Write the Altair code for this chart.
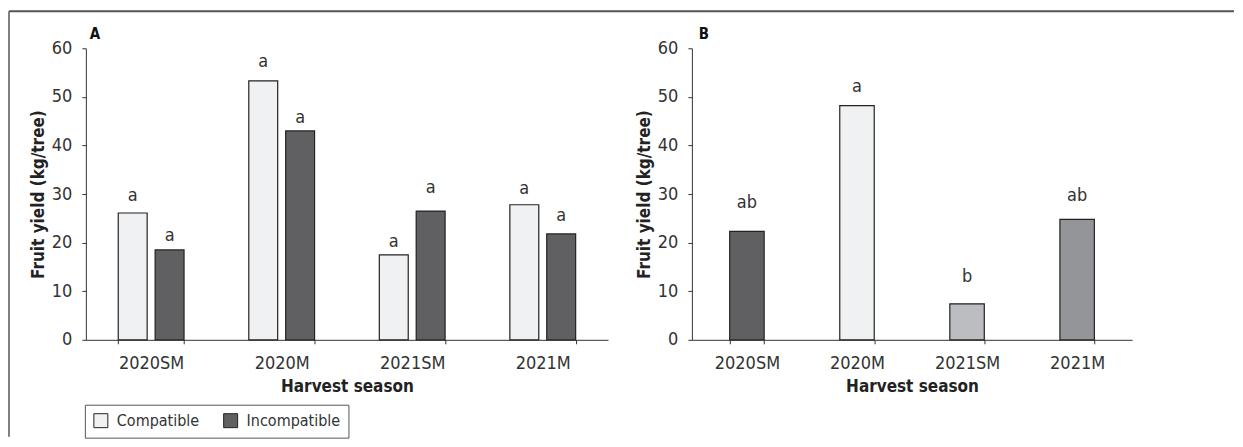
import altair as alt
import pandas as pd

# ---------------- data ----------------
seasons = ["2020SM", "2020M", "2021SM", "2021M"]
graft_types = ["Compatible", "Incompatible"]

# Panel A
yield_compatible = [26.1, 53.3, 17.5, 27.8]
yield_incompatible = [18.5, 43.0, 26.5, 21.8]
letters_compatible = ["a", "a", "a", "a"]
letters_incompatible = ["a", "a", "a", "a"]
label_pos_compatible = [28.6, 56.1, 19.0, 30.1]
label_pos_incompatible = [20.4, 44.6, 30.3, 24.5]

# Panel B
yield_b = [22.3, 48.2, 7.4, 24.8]
letters_b = ["ab", "a", "b", "ab"]
label_pos_b = [27.2, 51.0, 11.8, 28.6]

y_ticks = [0, 10, 20, 30, 40, 50, 60]
panel_names = ["A", "B"]

graft_colors = ["#f0f1f3", "#606062"]
season_colors_b = ["#606062", "#f0f1f3", "#bcbdc0", "#939598"]

FONT = "'DejaVu Sans Condensed', 'Liberation Sans Narrow', 'Liberation Sans', sans-serif"
TEXT_COLOR = "#333333"

df_a = pd.DataFrame({
    "season": seasons * 2,
    "graft": [graft_types[0]] * 4 + [graft_types[1]] * 4,
    "yield": yield_compatible + yield_incompatible,
    "letter": letters_compatible + letters_incompatible,
    "label_pos": label_pos_compatible + label_pos_incompatible,
})
df_b = pd.DataFrame({
    "season": seasons,
    "yield": yield_b,
    "letter": letters_b,
    "label_pos": label_pos_b,
})
frame_df = pd.DataFrame({"k": [0]})
name_a_df = pd.DataFrame({"panel": [panel_names[0]]})
name_b_df = pd.DataFrame({"panel": [panel_names[1]]})

Y_TITLE = "Fruit yield (kg/tree)"
X_TITLE = "Harvest season"

y_scale = alt.Scale(domain=[0, 60], nice=False)
y_axis = alt.Axis(values=y_ticks)

# ---------------- panel A ----------------
x_a = alt.X("season:N", sort=seasons, title=X_TITLE,
            scale=alt.Scale(paddingInner=0.496, paddingOuter=0.248),
            axis=alt.Axis(labelAngle=0, tickBand="extent"))
xoff_a = alt.XOffset("graft:N", sort=graft_types,
                     scale=alt.Scale(paddingInner=0.216, paddingOuter=0))

bars_a = alt.Chart(df_a).mark_bar(stroke="#222222", strokeWidth=1.2).encode(
    x=x_a,
    xOffset=xoff_a,
    y=alt.Y("yield:Q", scale=y_scale, axis=y_axis, title=Y_TITLE),
    fill=alt.Fill("graft:N", sort=graft_types,
                  scale=alt.Scale(domain=graft_types, range=graft_colors),
                  legend=alt.Legend(
                      title=None, orient="none", legendX=-1, legendY=357,
                      direction="horizontal", padding=8,
                      strokeColor="#555555", fillColor="white",
                      labelFont=FONT, labelFontSize=16, labelColor=TEXT_COLOR,
                      symbolType="square", symbolSize=196,
                      symbolStrokeColor="#222222", symbolStrokeWidth=1,
                      labelOffset=8, columnPadding=22)),
)
text_a = alt.Chart(df_a).mark_text(baseline="alphabetic", font=FONT,
                                   fontSize=18, color=TEXT_COLOR).encode(
    x=x_a,
    xOffset=xoff_a,
    y=alt.Y("label_pos:Q", scale=y_scale, axis=y_axis, title=Y_TITLE),
    text="letter:N",
)
frame_left = alt.Chart(frame_df).mark_rule(color="#555555", strokeWidth=1.5).encode(
    x=alt.value(-77), y=alt.value(-37), y2=alt.value(389))
frame_top = alt.Chart(frame_df).mark_rule(color="#555555", strokeWidth=2).encode(
    x=alt.value(-77), x2=alt.value(1150), y=alt.value(-37))
name_a = alt.Chart(name_a_df).mark_text(
    align="left", baseline="alphabetic", font=FONT, fontSize=15,
    fontWeight="bold", color="#111111").encode(
    x=alt.value(4), y=alt.value(-9), text="panel:N")

panel_a = alt.layer(frame_left, frame_top, bars_a, text_a, name_a).properties(
    width=523, height=292,
)

# ---------------- panel B ----------------
x_b = alt.X("season:N", sort=seasons, title=X_TITLE,
            scale=alt.Scale(paddingInner=0.687, paddingOuter=0.3435),
            axis=alt.Axis(labelAngle=0, tickBand="extent"))

bars_b = alt.Chart(df_b).mark_bar(stroke="#222222", strokeWidth=1.2).encode(
    x=x_b,
    y=alt.Y("yield:Q", scale=y_scale, axis=y_axis, title=Y_TITLE),
    fill=alt.Fill("season:N", sort=seasons,
                  scale=alt.Scale(domain=seasons, range=season_colors_b),
                  legend=None),
)
text_b = alt.Chart(df_b).mark_text(baseline="alphabetic", font=FONT,
                                   fontSize=18, color=TEXT_COLOR).encode(
    x=x_b,
    y=alt.Y("label_pos:Q", scale=y_scale, axis=y_axis, title=Y_TITLE),
    text="letter:N",
)
name_b = alt.Chart(name_b_df).mark_text(
    align="left", baseline="alphabetic", font=FONT, fontSize=15,
    fontWeight="bold", color="#111111").encode(
    x=alt.value(7), y=alt.value(-9), text="panel:N")

panel_b = alt.layer(bars_b, text_b, name_b).properties(
    width=441, height=292,
)

chart = alt.hconcat(panel_a, panel_b, spacing=84, bounds="flush").resolve_scale(
    fill="independent", x="independent", y="independent"
).properties(
    padding={"top": 2, "left": 0, "right": 0, "bottom": 0}
).configure_view(stroke=None).configure_axis(
    grid=False,
    domainColor="#333333", domainWidth=1,
    tickColor="#333333", tickSize=4, tickWidth=1,
    labelFont=FONT, labelFontSize=18, labelColor=TEXT_COLOR,
    titleFont=FONT, titleFontSize=17, titleFontWeight="bold", titleColor="#222222",
).configure_axisX(labelPadding=11, titlePadding=6).configure_axisY(
    labelPadding=10, titlePadding=4)

chart.save("out.html", embed_options={"renderer": "svg", "actions": False})
